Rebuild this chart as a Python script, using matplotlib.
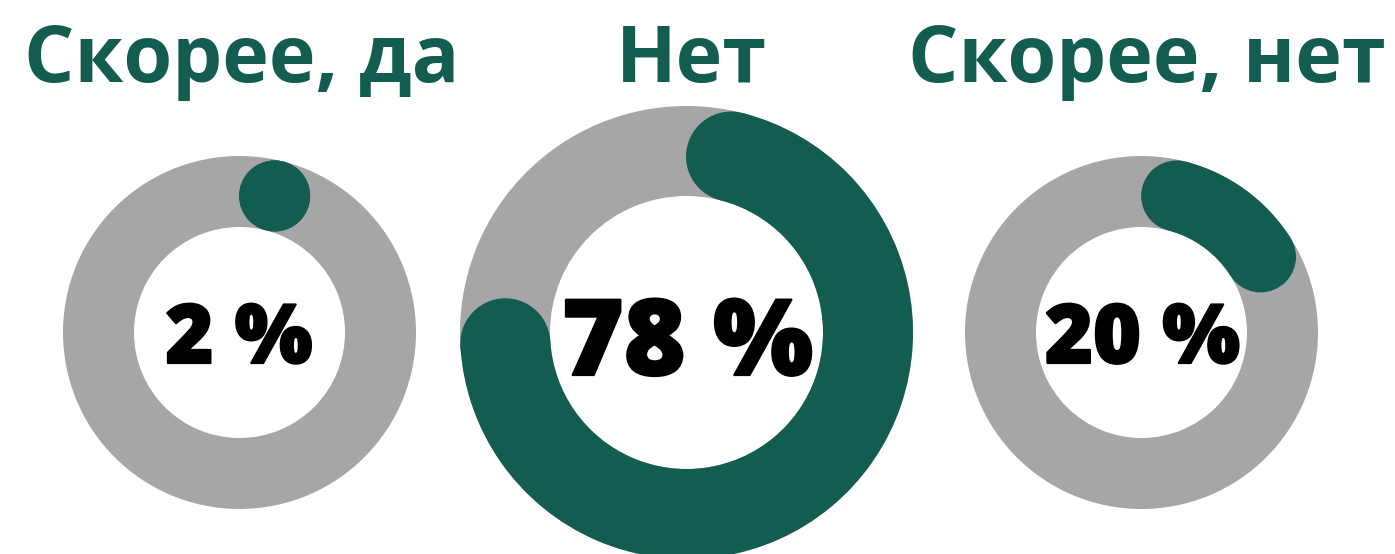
import numpy as np
import matplotlib
matplotlib.use("Agg")
import matplotlib.pyplot as plt
import matplotlib.patheffects as pe
from matplotlib.patches import Wedge, Circle

# data
labels = ["Скорее, да", "Нет", "Скорее, нет"]
shares = [2, 78, 20]          # percent
pct_text = ["2 %", "78 %", "20 %"]

green = "#135c50"
grey = "#a6a6a6"

# layout in pixel units (image y measured from top)
cx = [239.5, 686.5, 1141.5]
cy_img = 332.5
r_out = [176.5, 226.5, 176.5]
r_in = [105.5, 136.5, 105.5]
title_x = [242, 691, 1147]
pct_x = [239, 687.5, 1142.5]
pct_base = [363, 375, 363]
pct_size = [59, 76, 59]

W, H = 1395, 554
fig = plt.figure(figsize=(W / 100, H / 100), dpi=100)
ax = fig.add_axes([0, 0, 1, 1])
ax.set_xlim(0, W)
ax.set_ylim(0, H)
ax.axis("off")

cy = H - cy_img
for i, p in enumerate(shares):
    c = (cx[i], cy)
    w = r_out[i] - r_in[i]
    rm = (r_out[i] + r_in[i]) / 2
    ax.add_patch(Wedge(c, r_out[i], 0, 360, width=w, color=grey, lw=0))
    # progress arc, clockwise from the top, rounded ends kept inside the span
    cap = np.degrees((w / 2) / rm)
    a0 = cap
    a1 = max(a0, p / 100 * 360 - cap)
    if a1 > a0:
        ax.add_patch(Wedge(c, r_out[i], 90 - a1, 90 - a0, width=w,
                           color=green, lw=0))
    for a in (a0, a1):
        t = np.radians(90 - a)
        ax.add_patch(Circle((c[0] + rm * np.cos(t), c[1] + rm * np.sin(t)),
                            w / 2, color=green, lw=0))
    # a thin outline makes the numbers look as heavy as the original
    ax.text(pct_x[i], H - pct_base[i], pct_text[i], ha="center", va="baseline",
            fontsize=pct_size[i], fontweight=800, family="Open Sans",
            color="black",
            path_effects=[pe.withStroke(linewidth=1.6, foreground="black")])
    ax.text(title_x[i], H - 82, labels[i], ha="center", va="baseline",
            fontsize=57, fontweight="bold", family="Open Sans", color=green)

fig.savefig("out.png", dpi=100)
